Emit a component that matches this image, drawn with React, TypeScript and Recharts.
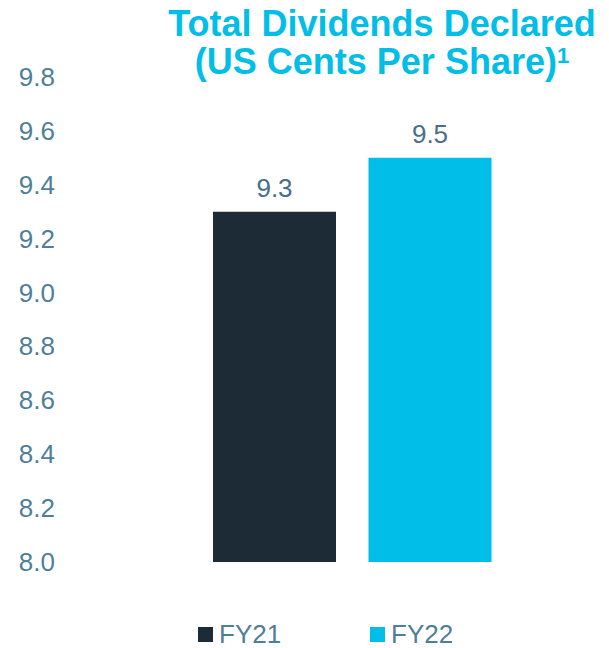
import { Bar, BarChart, Cell, LabelList, Legend, XAxis, YAxis } from "recharts";

const years = ["FY21", "FY22"];
const dividends = [9.3, 9.5];
const colors = ["#1c2b36", "#00bee7"];
const yTicks = [8.0, 8.2, 8.4, 8.6, 8.8, 9.0, 9.2, 9.4, 9.6, 9.8];

const data = years.map((year, i) => ({ year, value: dividends[i] }));

const FONT = '"Liberation Sans", Arial, sans-serif';

function YTick({ y, payload }: any) {
  return (
    <text
      x={55}
      y={y}
      dy={9}
      textAnchor="end"
      fill="#4f7f98"
      fontSize={26}
      fontFamily={FONT}
    >
      {Number(payload.value).toFixed(1)}
    </text>
  );
}

function ChartLegend() {
  return (
    <div style={{ height: 86, position: "relative", fontFamily: FONT }}>
      {years.map((year, i) => (
        <div
          key={year}
          style={{
            position: "absolute",
            left: i === 0 ? 198 : 370,
            top: 57,
            display: "flex",
            alignItems: "center",
            gap: 6,
          }}
        >
          <span
            style={{
              width: 15,
              height: 15,
              background: colors[i],
              display: "inline-block",
            }}
          />
          <span style={{ fontSize: 26, color: "#4f7f98", lineHeight: "30px" }}>
            {year}
          </span>
        </div>
      ))}
    </div>
  );
}

export default function App() {
  return (
    <div
      style={{
        position: "absolute",
        left: 0,
        top: 0,
        width: 609,
        height: 648,
        background: "#fff",
      }}
    >
      <div
        style={{
          position: "absolute",
          left: 160,
          width: 444,
          top: 5,
          textAlign: "center",
          color: "#00bee7",
          fontFamily: FONT,
          fontWeight: "bold",
          fontSize: 36,
          lineHeight: "38px",
          zIndex: 1,
        }}
      >
        Total Dividends Declared
        <br />
        (US Cents Per Share)
        <span style={{ fontSize: 22, position: "relative", top: -11 }}>1</span>
      </div>
      <BarChart
        width={609}
        height={648}
        data={data}
        margin={{ top: 77, right: 101, bottom: 0, left: 0 }}
        barSize={123}
      >
        <XAxis dataKey="year" hide />
        <YAxis
          width={197}
          domain={[8, 9.8]}
          ticks={yTicks}
          axisLine={false}
          tickLine={false}
          tick={<YTick />}
          allowDataOverflow
        />
        <Legend verticalAlign="bottom" content={<ChartLegend />} />
        <Bar dataKey="value" isAnimationActive={false}>
          {data.map((d, i) => (
            <Cell key={d.year} fill={colors[i]} />
          ))}
          <LabelList
            dataKey="value"
            position="top"
            offset={15}
            fill="#486f85"
            fontSize={26}
            fontFamily={FONT}
            formatter={(v: any) => Number(v).toFixed(1)}
          />
        </Bar>
      </BarChart>
    </div>
  );
}
